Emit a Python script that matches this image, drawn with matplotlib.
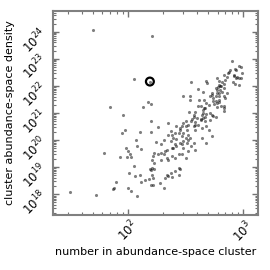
import matplotlib
matplotlib.use("Agg")
import matplotlib.pyplot as plt
import numpy as np

# log10 of cluster size and log10 of cluster density
log_n = [
    1.70, 2.21, 2.05, 2.19, 1.84, 2.13, 2.17, 2.20, 1.96, 2.20,
    1.97, 1.95, 2.10, 2.20, 2.07, 2.08, 2.11, 1.98, 2.00, 1.79,
    1.99, 1.93, 2.02, 2.03, 2.05, 2.20, 2.01, 2.06, 2.10, 2.20,
    2.15, 2.11, 1.90, 1.88, 1.87, 2.00, 2.03, 2.08, 1.50, 1.72,
    # dense upper band
    2.90, 2.96, 2.98, 2.93, 2.94, 2.89, 2.88, 2.87, 2.99, 2.92,
    2.95, 2.98, 2.83, 2.86, 2.84, 2.77, 2.68, 2.69, 2.92, 2.94,
    2.96,
    2.79, 2.82, 2.83, 2.81, 2.78, 2.76, 2.96, 2.91, 2.93, 2.55,
    2.61, 2.65, 2.80, 2.77, 2.79, 2.73, 2.71, 2.48, 2.54, 2.54,
    2.62, 2.66, 2.74, 2.79, 2.80, 2.83, 2.77, 2.82, 2.79, 2.73,
    2.86,
    2.76, 2.79, 2.75, 2.77, 2.83, 2.61, 2.66, 2.58, 2.65, 2.68,
    2.67, 2.57, 2.60, 2.63, 2.73, 2.76, 2.55, 2.50, 2.52, 2.58,
    2.42, 2.45, 2.50, 2.51, 2.35, 2.26,
    2.76, 2.79, 2.83, 2.84, 2.74, 2.77, 2.81, 2.83, 2.68, 2.70,
    2.67, 2.65, 2.71, 2.74, 2.71, 2.67, 2.64, 2.65, 2.63, 2.68,
    2.64, 2.70, 2.83,
    2.63, 2.53, 2.57, 2.56, 2.58, 2.61, 2.57, 2.58, 2.48, 2.47,
    2.45, 2.44, 2.48, 2.47, 2.50, 2.52, 2.54, 2.37, 2.35, 2.38,
    2.41, 2.39, 2.42, 2.37, 2.31, 2.29, 2.24, 2.45, 2.51, 2.42,
    2.39, 2.48, 2.55, 2.57,
    2.48, 2.52, 2.47, 2.41, 2.38, 2.64, 2.68, 2.73,
    2.34, 2.32, 2.29, 2.26, 2.23, 2.22, 2.21, 2.23, 2.31, 2.34,
    2.29, 2.35, 2.38, 2.41, 2.44, 2.47, 2.50, 2.52, 2.58,
    2.21, 2.19, 2.23, 2.44, 2.45, 2.41, 2.37, 2.34, 2.35, 2.32,
    2.38, 2.44, 2.21, 2.22, 2.18, 2.22, 2.28, 2.31,
]
log_density = [
    24.07, 23.83, 22.26, 22.16, 21.22, 21.21, 21.42, 21.34, 20.94, 20.72,
    20.39, 20.26, 20.29, 20.30, 20.02, 19.77, 19.68, 19.71, 19.59, 19.53,
    19.39, 19.37, 19.47, 19.39, 19.04, 18.88, 18.77, 18.66, 18.72, 18.36,
    18.52, 18.46, 18.46, 18.23, 18.19, 18.23, 18.12, 17.92, 18.08, 17.96,
    22.90, 22.74, 22.71, 22.64, 22.59, 22.59, 22.52, 22.47, 22.48, 22.40,
    22.32, 22.30, 22.42, 22.32, 22.22, 22.29, 22.19, 22.10, 22.37, 22.29,
    22.29,
    22.18, 22.15, 22.08, 22.00, 21.96, 21.92, 22.03, 22.15, 22.08, 22.15,
    21.88, 21.78, 21.86, 21.74, 21.61, 21.67, 21.61, 21.61, 21.61, 21.49,
    21.49, 21.49, 21.54, 22.04, 21.98, 21.92, 21.86, 21.79, 21.74, 21.74,
    21.74,
    21.46, 21.40, 21.34, 21.22, 21.27, 21.24, 21.17, 21.02, 21.00, 20.97,
    20.85, 20.87, 20.80, 20.78, 20.94, 20.85, 20.69, 20.69, 20.57, 20.56,
    20.51, 20.43, 20.53, 20.39, 20.63, 20.47,
    21.61, 21.49, 21.61, 21.55, 21.43, 21.37, 21.24, 21.18, 21.37, 21.31,
    21.18, 21.10, 21.00, 20.88, 20.75, 20.69, 20.94, 20.82, 20.75, 20.51,
    20.45, 20.39, 21.06,
    21.27, 21.02, 20.94, 20.78, 20.65, 20.57, 20.51, 20.39, 20.63, 20.51,
    20.39, 20.27, 20.27, 20.14, 20.08, 20.20, 20.08, 20.32, 20.20, 20.20,
    20.26, 20.08, 20.04, 19.96, 20.02, 19.84, 19.92, 19.90, 19.90, 19.77,
    19.71, 19.71, 19.77, 19.90,
    19.96, 20.02, 19.84, 19.84, 19.71, 20.08, 19.90, 20.14,
    19.65, 19.59, 19.53, 19.47, 19.53, 19.40, 19.28, 19.16, 19.47, 19.35,
    19.28, 19.28, 19.40, 19.35, 19.47, 19.47, 19.35, 19.59, 19.65,
    18.98, 18.92, 18.95, 18.98, 18.92, 18.85, 18.79, 18.73, 18.67, 18.61,
    18.63, 18.73, 18.73, 18.61, 18.55, 18.36, 18.43, 18.24,
]

# highlighted cluster
hl_log_n = 2.19
hl_log_density = 22.16

n = 10.0 ** np.array(log_n)
density = 10.0 ** np.array(log_density)

fig = plt.figure(figsize=(2.7, 2.7), dpi=100)
ax = fig.add_axes([0.196, 0.204, 0.760, 0.755])

ax.scatter(n, density, s=5, color="k", alpha=0.5, linewidths=0)
ax.scatter([10 ** hl_log_n], [10 ** hl_log_density], s=32, facecolors="none",
           edgecolors="k", linewidths=1.6)

ax.set_xscale("log")
ax.set_yscale("log")
ax.set_xlim(10 ** 1.348, 10 ** 3.13)
ax.set_ylim(10 ** 17.24, 10 ** 24.76)

for sp in ax.spines.values():
    sp.set_color("0.5")
    sp.set_linewidth(1.5)

ax.tick_params(which="both", direction="in", top=True, right=True,
               color="0.45", labelsize=8.5)
ax.tick_params(which="major", length=4, width=1)
ax.tick_params(which="minor", length=2, width=0.8)
ax.tick_params(axis="both", labelrotation=45)
ax.tick_params(axis="x", pad=2)
ax.tick_params(axis="y", pad=2)

ax.set_xlabel("number in abundance-space cluster", fontsize=8)
ax.set_ylabel("cluster abundance-space density", fontsize=8)
ax.xaxis.set_label_coords(0.5, -0.155)
ax.yaxis.set_label_coords(-0.185, 0.5)

fig.savefig("out.png", dpi=100)
